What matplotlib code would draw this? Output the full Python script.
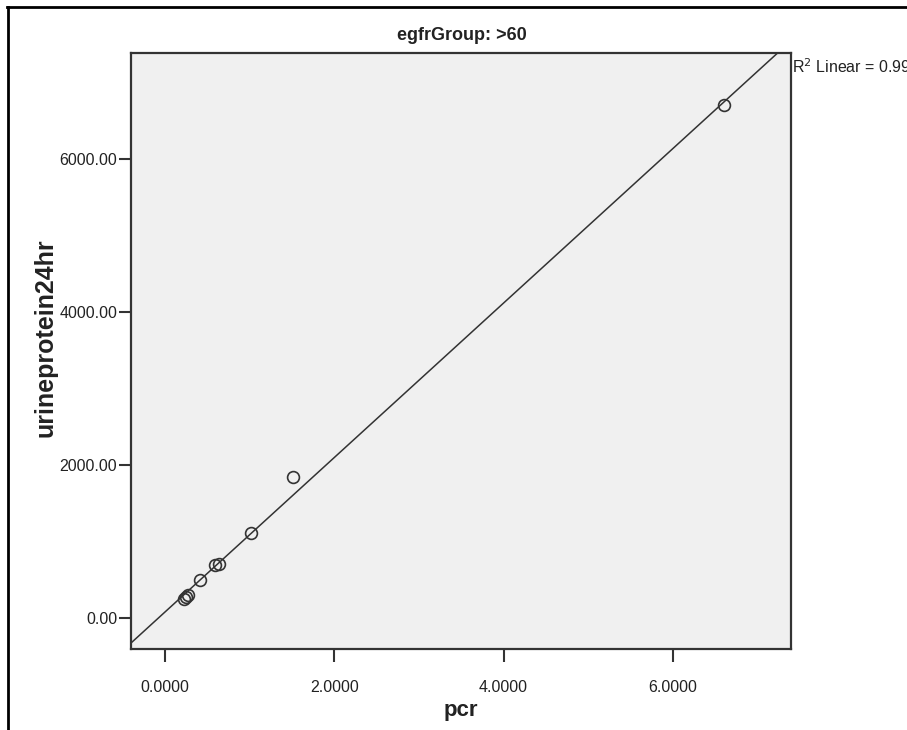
import numpy as np
import matplotlib
matplotlib.use('Agg')
import matplotlib.pyplot as plt
from matplotlib.lines import Line2D

plt.rcParams['font.family'] = ['Liberation Sans', 'DejaVu Sans']

# values (egfrGroup >60)
pcr = [0.228, 0.251, 0.279, 0.42, 0.597, 0.645, 1.015, 1.518, 6.607]
urineprotein24hr = [248, 275, 305, 497, 700, 706, 1119, 1851, 6706]
x_ticks = [0, 2, 4, 6]
y_ticks = [0, 2000, 4000, 6000]

fig = plt.figure(figsize=(9.07, 7.30), dpi=100)
ax = fig.add_axes([0.1444, 0.111, 0.7272, 0.8164])
ax.set_facecolor('#f0f0f0')

xlim = (-0.40, 7.39)
ylim = (-400, 7390)

# least squares fit line across the whole x range
slope, intercept = np.polyfit(pcr, urineprotein24hr, 1)
fx = np.array(xlim)
ax.plot(fx, slope * fx + intercept, color='#333333', lw=1.1, zorder=2)

ax.plot(pcr, urineprotein24hr, 'o', ms=8.5, mfc='none', mec='#333333',
        mew=1.2, zorder=3)

ax.set_xlim(xlim)
ax.set_ylim(ylim)
ax.set_xticks(x_ticks)
ax.set_xticklabels([f'{v:.4f}' for v in x_ticks])
ax.set_yticks(y_ticks)
ax.set_yticklabels([f'{v:.2f}' for v in y_ticks])
ax.tick_params(direction='out', length=9, width=1.5, color='#333333',
               labelsize=11.5, labelcolor='#222222')
ax.tick_params(axis='x', pad=13)
ax.tick_params(axis='y', pad=1)
for s in ax.spines.values():
    s.set_color('#333333')
    s.set_linewidth(1.6)

ax.set_xlabel('pcr', fontsize=16, fontweight='bold', color='#222222')
ax.xaxis.set_label_coords(0.5, -0.085)
ax.set_ylabel('urineprotein24hr', fontsize=18, fontweight='bold',
              color='#222222')
ax.yaxis.set_label_coords(-0.112, 0.522)

fig.text(0.509, 1 - 35 / 730, 'egfrGroup: >60', ha='center', va='center',
         fontsize=13, fontweight='bold', color='#222222')

r2 = 1 - np.sum((np.array(urineprotein24hr) - (slope * np.array(pcr) + intercept)) ** 2) / \
    np.sum((np.array(urineprotein24hr) - np.mean(urineprotein24hr)) ** 2)
fig.text(792 / 907, 1 - 67 / 730, f'R$^2$ Linear = {r2:.3f}', ha='left',
         va='center', fontsize=11.5, color='#222222')

# outer frame of the screenshot
fig.add_artist(Line2D([7 / 907, 1.0], [1 - 6.5 / 730, 1 - 6.5 / 730],
                      transform=fig.transFigure, color='black', lw=2))
fig.add_artist(Line2D([7.5 / 907, 7.5 / 907], [0, 1 - 6.5 / 730],
                      transform=fig.transFigure, color='black', lw=2))

fig.savefig('out.png', dpi=100)
